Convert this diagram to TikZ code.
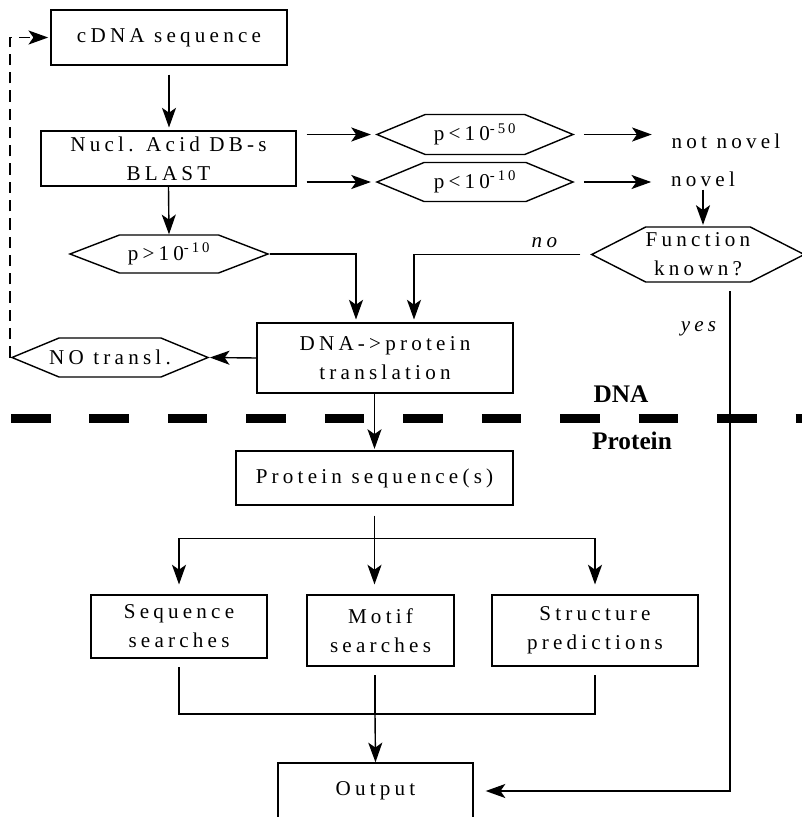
\documentclass[tikz,border=0pt]{standalone}
\usepackage{fontspec}
\setmainfont{Liberation Serif}[LetterSpace=20]
\newfontfamily\sidefont{Liberation Serif}
\usetikzlibrary{arrows.meta, shapes.symbols, calc}

\begin{document}
\begin{tikzpicture}[
    x=0.025cm, y=-0.025cm,
    font=\fontsize{15}{20.6}\selectfont,
    box/.style={rectangle, draw, line width=1pt, align=center, inner sep=0pt},
    hexa/.style={signal, signal to=west and east, signal pointer angle=45, draw, line width=1pt, align=center, inner sep=0pt},
    plain/.style={align=center, inner sep=2pt},
    lbl/.style={font=\sidefont\fontsize{18}{20}\selectfont\bfseries, inner sep=1pt},
    arr/.style={-{Stealth[length=14pt, width=10pt, inset=3.5pt]}, line width=1pt},
    link/.style={line width=1pt},
    feedback/.style={-{Stealth[length=14pt, width=10pt, inset=3.5pt]}, line width=1pt, dash pattern=on 8pt off 5pt},
    divider/.style={line width=6.4pt, dash pattern=on 28.1pt off 27.7pt},
]
\useasboundingbox (0,0) rectangle (802,817);

% DNA
\node[box, minimum width=5.9cm, minimum height=1.375cm] (cdna) at (169,37.5) {cDNA sequence};
\node[box, minimum width=6.375cm, minimum height=1.375cm] (blast) at (168.5,158.5) {Nucl. Acid DB-s\\BLAST};
\node[hexa, minimum width=4.9cm, minimum height=1cm] (p50) at (475,134.5) {p<10\textsuperscript{-50}};
\node[hexa, minimum width=4.9cm, minimum height=0.975cm] (p10) at (475,182) {p<10\textsuperscript{-10}};
\node[plain] (notnovel) at (726,141) {not novel};
\node[plain] (novel) at (703,179) {novel};
\node[hexa, signal pointer angle=54, minimum width=5.25cm, minimum height=1.375cm] (func) at (698,254.5) {Function\\known?};
\node[hexa, signal pointer angle=42, minimum width=4.95cm, minimum height=0.95cm] (pgt) at (169,254) {p>10\textsuperscript{-10}};
\node[box, minimum width=6.4cm, minimum height=1.75cm] (trans) at (385,358) {DNA->protein\\translation};
\node[hexa, inner xsep=-10pt, minimum width=4.9cm, minimum height=0.975cm] (notr) at (110,357.5) {NO transl.};

% trennlinie
\node[lbl] (dnalbl) at (621,394) {DNA};
\node[lbl] (protlbl) at (632,441) {Protein};
\coordinate (divl) at (11,418.5);
\coordinate (divr) at (802,418.5);

% Protein
\node[box, minimum width=6.925cm, minimum height=1.35cm] (prot) at (374.5,478) {Protein sequence(s)};
\node[box, minimum width=4.4cm, minimum height=1.575cm] (seq) at (179,626.5) {Sequence\\searches};
\node[box, minimum width=3.675cm, minimum height=1.775cm] (motif) at (380.5,630.5) {Motif\\searches};
\node[box, minimum width=5.15cm, minimum height=1.775cm] (struct) at (595,630.5) {Structure\\predictions};
\node[box, minimum width=4.875cm, minimum height=1.4cm] (out) at (375.5,791) {Output};
\coordinate (join) at (375,714);

% pfeile oben
\draw[arr, shorten <=6.4pt, shorten >=2pt] (cdna.south) -- (cdna.south |- blast.north);
\draw[arr, shorten <=7pt, shorten >=3pt] (blast.east |- p50.west) -- (p50.west);
\draw[arr, shorten <=7pt, shorten >=3pt] (blast.east |- p10.west) -- (p10.west);
\draw[arr, shorten <=6.4pt, shorten >=12pt] (p50.east) -- (notnovel.west |- p50.east);
\draw[arr, shorten <=6.4pt, shorten >=12pt] (p10.east) -- (novel.west |- p10.east);
\draw[arr, shorten >=1pt] (novel.south) -- (novel.south |- func.north);
\draw[arr] (blast.south) -- (pgt.north);
\draw[arr, shorten >=2pt] (pgt.east) -| ($(trans.north)+(-29,0)$);
\draw[arr, shorten <=7pt, shorten >=2pt] (func.west) -| node[pos=0.13, above=1pt, font=\fontsize{15}{20.6}\selectfont\itshape] {no} ($(trans.north)+(29,0)$);
\draw[arr] (trans.west) -- (notr.east);
\draw[feedback, shorten >=1.5pt] (notr.west) |- (cdna.west);

\draw[divider] (divl) -- (divr);
\draw[arr, shorten >=1pt] (prot.north |- trans.south) -- (prot.north);

% pfeile unten
\draw[link, shorten <=7pt] (prot.south) -- ++(0,33) coordinate (split);
\draw[arr, shorten >=7pt] (split) -| (seq.north);
\draw[arr, shorten >=7pt] (split) -- (split |- motif.north);
\draw[arr, shorten >=7pt] (split) -| (struct.north);
\draw[link, shorten <=6pt] (seq.south) |- (join);
\draw[link, shorten <=6pt] (struct.south) |- (join);
\draw[link, shorten <=6pt] (join |- motif.south) -- (join);
\draw[arr] (join) -- (out.north);
\draw[arr, shorten <=6pt, shorten >=8.5pt] ($(func.south)+(32,0)$) |- node[pos=0.045, left=6pt, font=\fontsize{15}{20.6}\selectfont\itshape] {yes} (out.east);

\end{tikzpicture}
\end{document}
